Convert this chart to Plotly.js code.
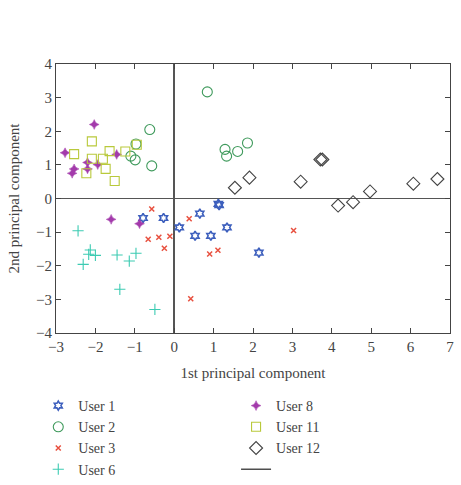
<!DOCTYPE html>
<html><head><meta charset="utf-8">
<script src="https://cdn.plot.ly/plotly-3.0.1.min.js"></script>
<style>body{margin:0;background:#fff}#plot{width:461px;height:485px}</style>
</head><body><div id="plot"></div>
<script>
const user1X = [-0.79, -0.27, 0.13, 0.53, 0.65, 0.93, 1.12, 1.14, 1.34, 2.15];
const user1Y = [-0.58, -0.58, -0.86, -1.11, -0.45, -1.11, -0.16, -0.20, -0.86, -1.61];
const user2X = [0.84, -0.62, -0.97, -1.10, -0.99, -0.57, 1.29, 1.33, 1.61, 1.86];
const user2Y = [3.17, 2.05, 1.62, 1.26, 1.15, 0.97, 1.46, 1.26, 1.40, 1.65];
const user3X = [-0.57, -0.66, -0.39, -0.25, -0.11, 0.38, 0.42, 0.90, 1.11, 3.03];
const user3Y = [-0.31, -1.21, -1.15, -1.48, -1.12, -0.60, -2.98, -1.65, -1.54, -0.95];
const user6X = [-2.44, -2.13, -2.17, -2.00, -2.31, -1.45, -0.97, -1.14, -1.38, -0.49];
const user6Y = [-0.96, -1.53, -1.66, -1.69, -1.96, -1.68, -1.63, -1.86, -2.70, -3.30];
const user8X = [-2.03, -2.77, -2.54, -2.59, -2.20, -2.20, -1.94, -1.46, -1.60, -0.88];
const user8Y = [2.20, 1.36, 0.88, 0.75, 1.07, 0.88, 1.01, 1.31, -0.62, -0.75];
const user11X = [-2.54, -2.09, -2.09, -2.23, -1.81, -1.74, -1.64, -1.51, -1.24, -0.95];
const user11Y = [1.32, 1.70, 1.18, 0.75, 1.18, 0.88, 1.41, 0.52, 1.40, 1.60];
const user12X = [1.54, 1.91, 3.21, 3.71, 3.76, 4.16, 4.54, 4.97, 6.07, 6.68];
const user12Y = [0.32, 0.62, 0.50, 1.16, 1.16, -0.21, -0.11, 0.21, 0.44, 0.58];
const xTicks = [-3, -2, -1, 0, 1, 2, 3, 4, 5, 6, 7];
const yTicks = [-4, -3, -2, -1, 0, 1, 2, 3, 4];

const font = "Liberation Serif, Times New Roman, serif";
function tr(name, x, y, symbol, color, size, legend, lw) {
  return {type: 'scatter', mode: 'markers', name: name, x: x, y: y, legend: legend,
    marker: {symbol: symbol, color: color, size: size, line: {color: color, width: lw || 1.2}}};
}
const data = [
  tr('User 1', user1X, user1Y, 'hexagram-open', '#3d5fbd', 7, 'legend', 1.6),
  tr('User 2', user2X, user2Y, 'circle-open', '#3f9a5c', 10, 'legend', 1.1),
  tr('User 3', user3X, user3Y, 'x-thin-open', '#e8503f', 5, 'legend', 1.5),
  tr('User 6', user6X, user6Y, 'cross-thin-open', '#3ccbb2', 8, 'legend', 1.1),
  tr('User 8', user8X, user8Y, 'star-diamond', '#a33aab', 7, 'legend2', 0.5),
  tr('User 11', user11X, user11Y, 'square-open', '#b9c93b', 9, 'legend2', 1.1),
  tr('User 12', user12X, user12Y, 'diamond-open', '#444444', 10, 'legend2', 1.1),
  {type: 'scatter', mode: 'lines', name: ' ', x: [null], y: [null], legend: 'legend2',
    line: {color: '#222', width: 1.2}}
];
const axisBase = {showgrid: false, zeroline: true, zerolinecolor: '#555', zerolinewidth: 1.5,
  showline: true, linecolor: '#444', linewidth: 1, mirror: 'ticks', ticks: 'inside', ticklen: 5,
  tickcolor: '#444', tickfont: {family: font, size: 15, color: '#444'}};
const legFont = {family: font, size: 14, color: '#444'};
const layout = {
  width: 461, height: 485, paper_bgcolor: '#fff', plot_bgcolor: '#fff',
  margin: {l: 56, r: 11, t: 64, b: 152},
  font: {family: font, color: '#444'},
  xaxis: Object.assign({}, axisBase, {range: [-3, 7], tickvals: xTicks,
    title: {text: '1st principal component', font: {family: font, size: 15, color: '#444'}, standoff: 13}}),
  yaxis: Object.assign({}, axisBase, {range: [-4, 4], tickvals: yTicks,
    title: {text: '2nd principal component', font: {family: font, size: 15, color: '#444'}, standoff: 12}}),
  legend: {x: -0.045, y: 0, xref: 'paper', yref: 'container', xanchor: 'left', yanchor: 'bottom',
    font: legFont, tracegroupgap: 0, itemwidth: 30, bgcolor: 'rgba(0,0,0,0)'},
  legend2: {x: 0.457, y: 0, xref: 'paper', yref: 'container', xanchor: 'left', yanchor: 'bottom',
    font: legFont, tracegroupgap: 0, itemwidth: 30, bgcolor: 'rgba(0,0,0,0)'},
  showlegend: true
};
Plotly.newPlot('plot', data, layout, {displayModeBar: false, staticPlot: true});
</script>
</body></html>
